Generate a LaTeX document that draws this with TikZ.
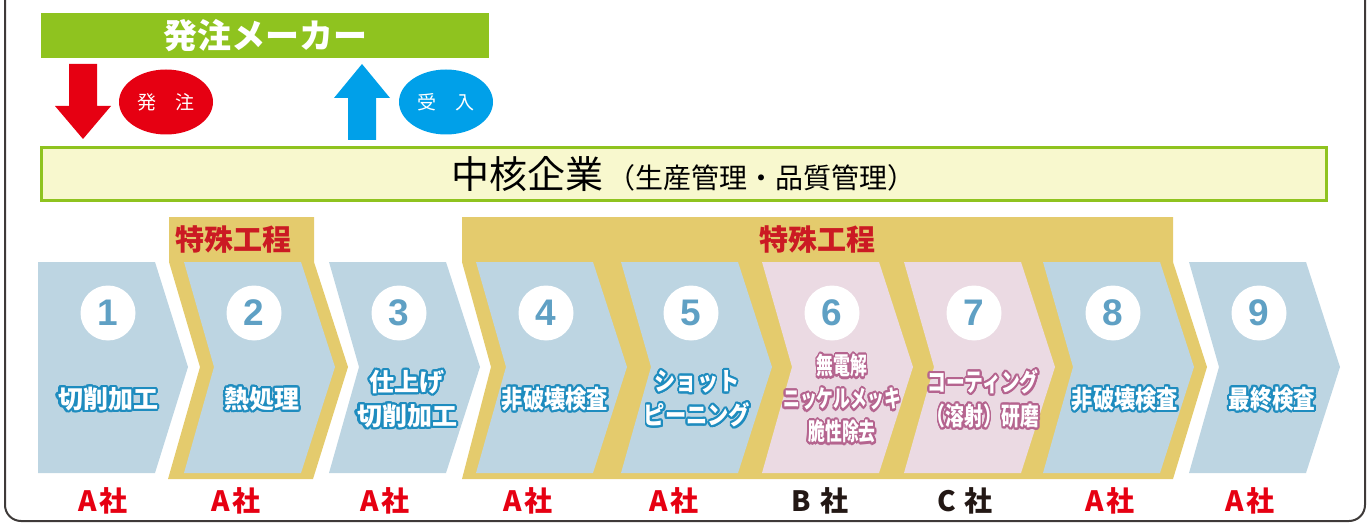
\documentclass[tikz,border=0pt]{standalone}
\usepackage{fontspec}
\usepackage{graphicx}
\usepackage{contour}
\usetikzlibrary{shapes.geometric}
\newfontfamily\jp{Noto Sans CJK JP}
\newfontfamily\numf{Liberation Sans}
\definecolor{gbar}{HTML}{8FC31F}
\definecolor{corefill}{HTML}{F8F8CE}
\definecolor{gold}{HTML}{E4CB6D}
\definecolor{lblue}{HTML}{BDD5E2}
\definecolor{lpink}{HTML}{EBDAE3}
\definecolor{numc}{HTML}{5FA0C4}
\definecolor{bstroke}{HTML}{1E8CBF}
\definecolor{pstroke}{HTML}{B5648F}
\definecolor{ared}{HTML}{E60012}
\definecolor{ablue}{HTML}{00A0E9}
\definecolor{tred}{HTML}{CB1A23}
\definecolor{framec}{HTML}{3E3A39}
\definecolor{dk}{HTML}{231815}
\contourlength{2.1pt}
\contournumber{24}
\newcommand\lbl[3]{\scalebox{#2}[1]{\contour{#1}{#3}}}
\begin{document}
\begin{tikzpicture}[x=1pt,y=-1pt,
  lab/.style={font=\jp\bfseries\fontsize{25}{34}\selectfont, text=white, align=center, inner sep=0},
  num/.style={circle, fill=white, minimum size=55pt, inner sep=0, font=\numf\bfseries\fontsize{37}{37}\selectfont, text=numc},
  co/.style={font=\jp\bfseries\fontsize{28}{28}\selectfont, inner sep=0},
  tk/.style={font=\jp\bfseries\fontsize{29}{29}\selectfont, text=tred, inner sep=0},
  oval/.style={ellipse, minimum width=94pt, minimum height=65pt, inner sep=0, text=white, font=\jp\fontsize{19}{19}\selectfont}
]
\useasboundingbox (0,0) rectangle (1371,524);
\begin{scope}
\clip (0,0) rectangle (1371,524);
\draw[line width=2pt, framec, rounded corners=16] (5,-30) -- (5,521) -- (1365,521) -- (1365,-30);
\end{scope}

% maker bar
\node[fill=gbar, minimum width=448pt, minimum height=45pt, inner sep=0,
      text=white, font=\jp\bfseries\fontsize{34}{34}\selectfont] (maker) at (265,35.5) {発注メーカー};

% arrows
\fill[ared] (69,64) -- (97,64) -- (97,106) -- (111,106) -- (83,139) -- (55,106) -- (69,106) -- cycle;
\fill[ablue] (348,140) -- (376,140) -- (376,98) -- (390,98) -- (362,64) -- (334,98) -- (348,98) -- cycle;
\node[oval, fill=ared] (order) at (166,102) {発\hspace{20pt}注};
\node[oval, fill=ablue] (recv) at (446,102) {受\hspace{20pt}入};

% core company bar
\node[fill=corefill, draw=gbar, line width=3pt, minimum width=1285pt, minimum height=53pt, inner sep=0] (core) at (683.5,174)
  {{\jp\fontsize{38}{40}\selectfont 中核企業}\hspace{4pt}{\jp\fontsize{28}{30}\selectfont （生産管理・品質管理）}};

% gold backgrounds
\fill[gold] (169,217) -- (314,217) -- (314,262) -- (348,367) -- (313,479) -- (168,479) -- (200,367) -- (169,262) -- cycle;
\fill[gold] (462,217) -- (1173,217) -- (1173,262) -- (1207,367) -- (1173,479) -- (462,479) -- (491,367) -- (462,262) -- cycle;
\node[tk] (sp1) at (233.5,240) {特殊工程};
\node[tk] (sp2) at (817.5,240) {特殊工程};

% chevrons
\fill[lblue] (38,262) -- (155,262) -- (188,367) -- (155,473) -- (38,473) -- cycle;
\foreach \L/\c in {184/lblue,329/lblue,476/lblue,621/lblue,762/lpink,904/lpink,1043/lblue,1189/lblue}{
  \fill[\c] (\L,262) -- (\L+117,262) -- (\L+151,367) -- (\L+117,473) -- (\L,473) -- (\L+30,367) -- cycle;
}

% numbers
\node[num] (n1) at (108,313) {1};
\node[num] (n2) at (254,313) {2};
\node[num] (n3) at (399,313) {3};
\node[num] (n4) at (546,313) {4};
\node[num] (n5) at (691,313) {5};
\node[num] (n6) at (832,313) {6};
\node[num] (n7) at (974,313) {7};
\node[num] (n8) at (1113,313) {8};
\node[num] (n9) at (1259,313) {9};

% labels
\node[lab] (t1) at (108,400) {\lbl{bstroke}{1}{切削加工}};
\node[lab] (t2) at (262,400) {\lbl{bstroke}{1}{熱処理}};
\node[lab] (t3) at (407,400) {\lbl{bstroke}{1}{仕上げ}\\\lbl{bstroke}{1}{切削加工}};
\node[lab] (t4) at (555,400) {\lbl{bstroke}{0.85}{非破壊検査}};
\node[lab] (t5) at (697,400) {\lbl{bstroke}{0.85}{ショット}\\\lbl{bstroke}{0.85}{ピーニング}};
\node[lab, font=\jp\bfseries\fontsize{24}{33}\selectfont] (t6) at (842,400) {\lbl{pstroke}{0.7}{無電解}\\\lbl{pstroke}{0.7}{ニッケルメッキ}\\\lbl{pstroke}{0.7}{脆性除去}};
\node[lab] (t7) at (983,400) {\lbl{pstroke}{0.75}{コーティング}\\\lbl{pstroke}{0.75}{（溶射）研磨}};
\node[lab] (t8) at (1125,400) {\lbl{bstroke}{0.85}{非破壊検査}};
\node[lab] (t9) at (1272,400) {\lbl{bstroke}{0.87}{最終検査}};

% companies
\node[co, text=ared] (co1) at (103,501) {A\hspace{2pt}社};
\node[co, text=ared] (co2) at (236,501) {A\hspace{2pt}社};
\node[co, text=ared] (co3) at (385,501) {A\hspace{2pt}社};
\node[co, text=ared] (co4) at (528,501) {A\hspace{2pt}社};
\node[co, text=ared] (co5) at (674,501) {A\hspace{2pt}社};
\node[co, text=dk] (co6) at (820,501) {B\hspace{9pt}社};
\node[co, text=dk] (co7) at (965,501) {C\hspace{9pt}社};
\node[co, text=ared] (co8) at (1110,501) {A\hspace{2pt}社};
\node[co, text=ared] (co9) at (1250,501) {A\hspace{2pt}社};
\end{tikzpicture}
\end{document}
